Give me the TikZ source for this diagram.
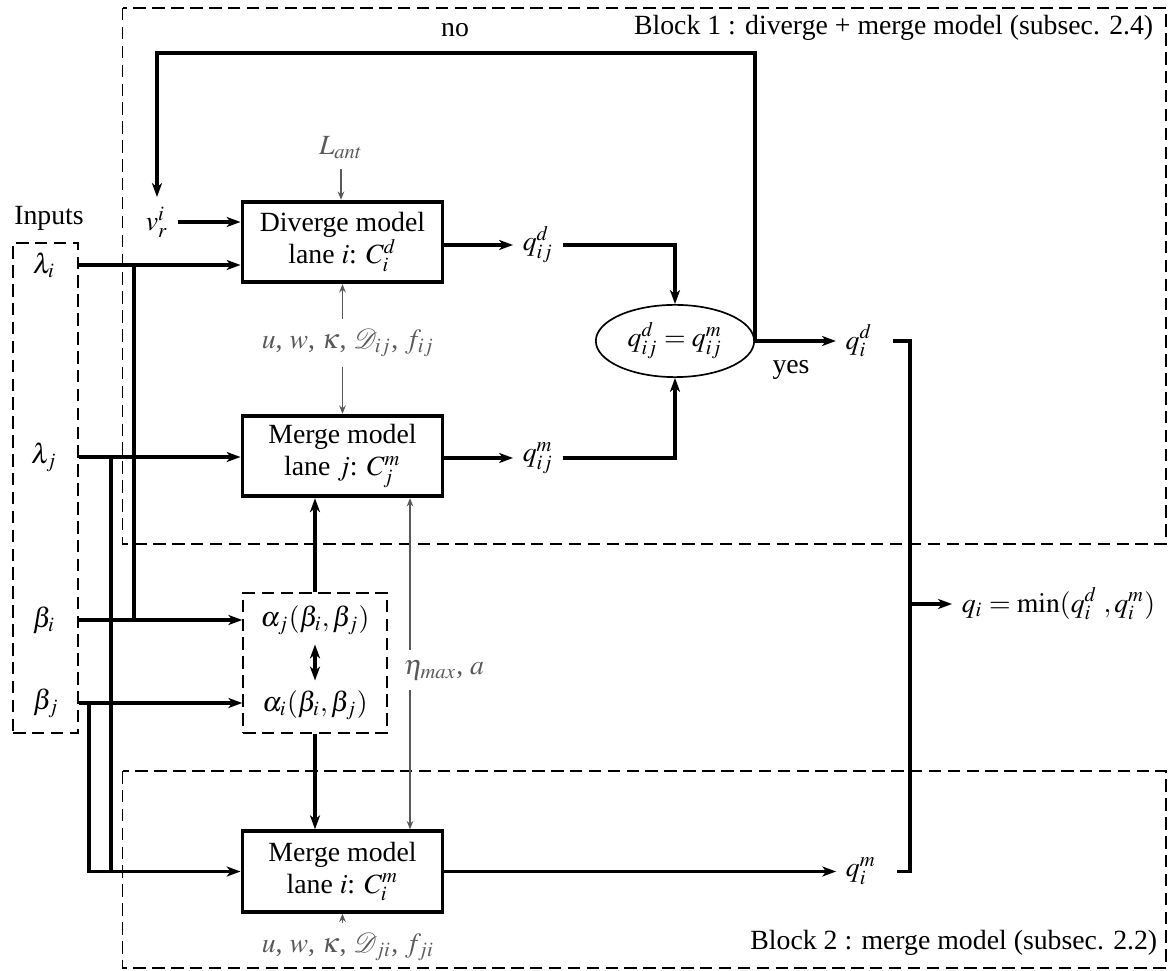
\documentclass[tikz,border=0pt]{standalone}
\usepackage{mathptmx}
\usepackage{mathrsfs}
\usepackage{fontspec}
\setmainfont{Liberation Serif}
\usetikzlibrary{arrows.meta,shapes.geometric}

\begin{document}
\begin{tikzpicture}[x=0.36pt,y=0.36pt,yscale=-1,
  thk/.style={line width=1.2pt},
  arr/.style={-{Stealth[length=5pt,width=3.6pt,inset=1.4pt]}},
  darr/.style={{Stealth[length=5pt,width=3.6pt,inset=1.4pt]}-{Stealth[length=5pt,width=3.6pt,inset=1.4pt]}},
  gry/.style={draw=black!65,line width=0.4pt,-{Stealth[length=3pt,width=2.4pt,inset=1pt]}},
  gtxt/.style={text=black!65},
  frame/.style={line width=0.55pt,dash pattern=on 4.5pt off 2.3pt},
  model/.style={draw,line width=1.4pt,minimum width=72pt,minimum height=29pt,align=center,inner sep=0pt,font=\fontsize{10}{11.5}\selectfont},
]
\useasboundingbox (0,0) rectangle (1172,971);

% block frames
\draw[frame] (122.5,8) rectangle (1166,544);
\draw[frame] (122.5,771) rectangle (1166,968);

% models
\node[model] (div) at (342.5,242) {Diverge model\\lane $i$: $C_i^d$};
\node[model] (mj) at (342.5,456) {Merge model\\lane $j$: $C_j^m$};
\node[model] (mi) at (342.5,871.5) {Merge model\\lane $i$: $C_i^m$};

% inputs
\node[draw,frame,minimum width=23.4pt,minimum height=176.4pt,inner sep=0pt] (inp) at (45.5,488) {};
\node (inlab) at (49,218) {Inputs};
\node (li) at (44,265) {$\lambda_i$};
\node (lj) at (44,457) {$\lambda_j$};
\node (bi) at (44,620) {$\beta_i$};
\node (bj) at (46,703) {$\beta_j$};
\node (vr) at (157,222) {$v_r^i$};

% alpha box
\node[draw,frame,minimum width=51.8pt,minimum height=50.4pt,inner sep=0pt] (abox) at (315,663) {};
\node (aj) at (315,620) {$\alpha_j(\beta_i,\beta_j)$};
\node (ai) at (315,705) {$\alpha_i(\beta_i,\beta_j)$};

% outputs
\node (qdij) at (538,245) {$q_{ij}^d$};
\node (qmij) at (538,458) {$q_{ij}^m$};
\node[ellipse,draw,line width=0.6pt,minimum width=57pt,minimum height=26pt,inner sep=0pt] (eq) at (675,341) {$q_{ij}^d=q_{ij}^m$};
\node (qdi) at (859,341) {$q_i^d$};
\node (qmi) at (861,871.5) {$q_i^m$};
\node[anchor=west] (qmin) at (952,604) {$q_i=\min(q_i^d\;,q_i^m)$};
\node (no) at (455,30) {no};
\node (yes) at (791,370) {yes};

% parameters
\node[gtxt] (lant) at (341,148) {$L_{ant}$};
\node[gtxt] (pij) at (348,343) {$u$, $w$, $\kappa$, $\mathscr{D}_{ij}$, $f_{ij}$};
\node[gtxt] (pji) at (348,947) {$u$, $w$, $\kappa$, $\mathscr{D}_{ji}$, $f_{ji}$};
\node[gtxt] (eta) at (444,670) {$\eta_{max}$, $a$};

% block labels
\node[anchor=east] (b1) at (1163,28) {Block 1 : diverge + merge model (subsec. 2.4)};
\node[anchor=east] (b2) at (1167,943) {Block 2 : merge model (subsec. 2.2)};

\coordinate (xa) at (134,0);
\coordinate (xb) at (111,0);
\coordinate (xc) at (89,0);
\coordinate (xeta) at (410,0);
\coordinate (loop) at (0,53);
\coordinate (brk) at (910,604);

% input lines
\draw[thk,arr] (vr) -- (vr -| div.west);
\draw[thk,arr] (inp.east |- li) -- (li -| div.west);
\draw[thk,arr] (inp.east |- lj) -- (lj -| mj.west);
\draw[thk,arr] (inp.east |- bi) -- (bi -| abox.west);
\draw[thk,arr] (inp.east |- bj) -- (bj -| abox.west);
\draw[thk] (li -| xa) -- (bi -| xa);
\draw[thk] (lj -| xb) -- (xb |- mi.west);
\draw[thk,arr] (bj -| xc) |- (mi.west);

% model outputs
\draw[thk,arr] (qdij -| div.east) -- (qdij);
\draw[thk,arr] (qdij) -| (eq.north);
\draw[thk,arr] (qmij -| mj.east) -- (qmij);
\draw[thk,arr] (qmij) -| (eq.south);
\draw[thk,arr] (eq.east) -- (qdi.west);
\draw[thk,arr] (eq.east) -- (eq.east |- loop) -| (vr.north);
\draw[thk,arr] (mi.east) -- (qmi.west);
\draw[thk] ([xshift=4pt]qdi.east) -| (brk) |- ([xshift=4pt]qmi.east);
\draw[thk,arr] (brk) -- (qmin.west);

% alpha links
\draw[thk,arr] (abox.north) -- (abox.north |- mj.south);
\draw[thk,darr] (aj) -- (ai);
\draw[thk,arr] (abox.south) -- (abox.south |- mi.north);

% parameter links
\draw[gry] (lant) -- (lant |- div.north);
\draw[gry] (pij.north -| div.south) -- (div.south);
\draw[gry] (pij.south -| mj.north) -- (mj.north);
\draw[gry] (eta.north -| xeta) -- (xeta |- mj.south);
\draw[gry] (eta.south -| xeta) -- (xeta |- mi.north);
\draw[gry] (pji.north -| mi.south) -- (mi.south);

\end{tikzpicture}
\end{document}
